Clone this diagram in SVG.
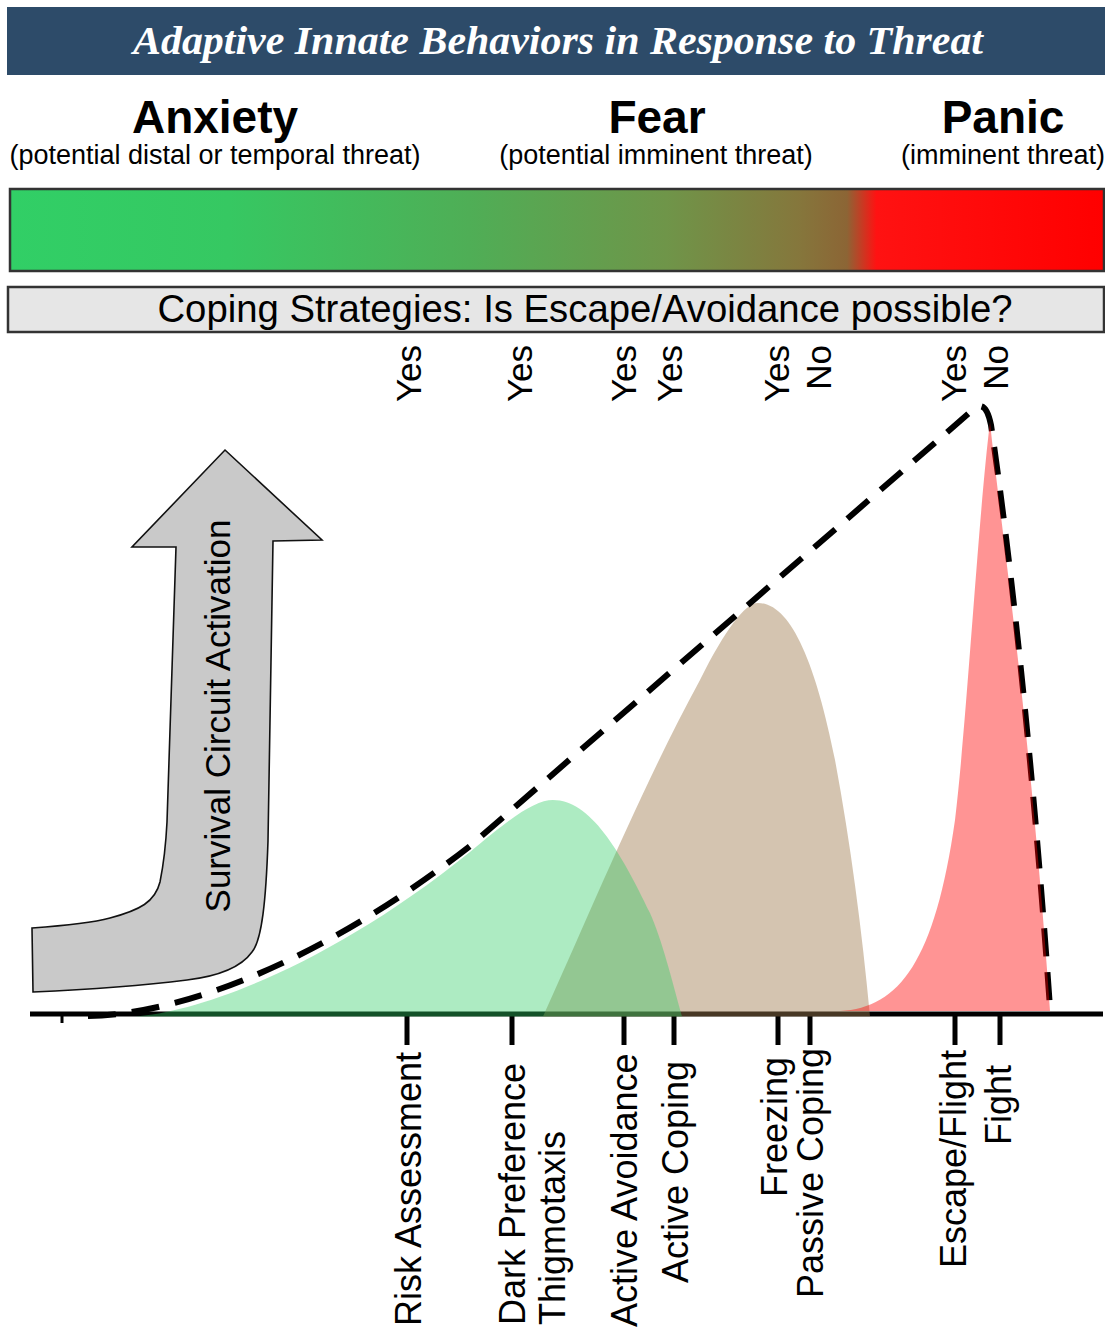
<svg xmlns="http://www.w3.org/2000/svg" width="1105" height="1329" viewBox="0 0 1105 1329">
<defs>
<linearGradient id="threatGrad" x1="0" y1="0" x2="1" y2="0">
<stop offset="0" stop-color="#31cf66"/>
<stop offset="0.2" stop-color="#36c862"/>
<stop offset="0.42" stop-color="#4fae56"/>
<stop offset="0.6" stop-color="#6f9549"/>
<stop offset="0.72" stop-color="#85773c"/>
<stop offset="0.765" stop-color="#8c6535"/>
<stop offset="0.792" stop-color="#ff1212"/>
<stop offset="1" stop-color="#ff0000"/>
</linearGradient>
<style>
.hdr{font-family:"Liberation Sans",Arial,sans-serif;font-weight:bold;font-size:46px;fill:#000;text-anchor:middle}
.sub{font-family:"Liberation Sans",Arial,sans-serif;font-size:27px;fill:#000;text-anchor:middle}
.yn{font-family:"Liberation Sans",Arial,sans-serif;font-size:35px;fill:#000;text-anchor:end}
.lbl{font-family:"Liberation Sans",Arial,sans-serif;font-size:36px;fill:#000;text-anchor:start}
.tick{stroke:#000;stroke-width:5}
</style>
</defs>
<rect width="1105" height="1329" fill="#fff"/>

<g id="title">
<rect x="7" y="7" width="1098" height="68" fill="#2d4b69"/>
<text x="558" y="54" font-family="'Liberation Serif','Times New Roman',serif" font-weight="bold" font-style="italic" font-size="41" fill="#fff" text-anchor="middle" textLength="850" lengthAdjust="spacingAndGlyphs">Adaptive Innate Behaviors in Response to Threat</text>
</g>

<g id="headers">
<text class="hdr" x="215" y="133">Anxiety</text>
<text class="hdr" x="657" y="133">Fear</text>
<text class="hdr" x="1003" y="133">Panic</text>
<text class="sub" x="215" y="164">(potential distal or temporal threat)</text>
<text class="sub" x="656" y="164">(potential imminent threat)</text>
<text class="sub" x="1003" y="164">(imminent threat)</text>
</g>

<g id="gradient-bar">
<rect x="10" y="189" width="1094" height="82" fill="url(#threatGrad)" stroke="#333" stroke-width="2.5"/>
</g>

<g id="coping-box">
<rect x="8" y="287" width="1096" height="45" fill="#e6e6e6" stroke="#333" stroke-width="2.5"/>
<text x="585" y="322" font-family="'Liberation Sans',Arial,sans-serif" font-size="38.3" fill="#000" text-anchor="middle">Coping Strategies: Is Escape/Avoidance possible?</text>
</g>

<g id="yes-no">
<text class="yn" transform="translate(421 345) rotate(-90)">Yes</text>
<text class="yn" transform="translate(532 345) rotate(-90)">Yes</text>
<text class="yn" transform="translate(636 345) rotate(-90)">Yes</text>
<text class="yn" transform="translate(682 345) rotate(-90)">Yes</text>
<text class="yn" transform="translate(789 345) rotate(-90)">Yes</text>
<text class="yn" transform="translate(831 345) rotate(-90)">No</text>
<text class="yn" transform="translate(966 345) rotate(-90)">Yes</text>
<text class="yn" transform="translate(1008 345) rotate(-90)">No</text>
</g>

<g id="survival-arrow">
<path d="M225 450 L322 540 L273 541 L268 841 C266 900 262 940 252 952 C242 966 220 976 187 980 C140 986 80 990 33 992 L32 928 C60 926 95 922 110 918 C140 910 155 902 160 882 C164 862 166 842 167 822 L176 547 L132 547 Z" fill="#c9c9c9" stroke="#111" stroke-width="1.6" stroke-linejoin="miter"/>
<text transform="translate(230 716) rotate(-90)" font-family="'Liberation Sans',Arial,sans-serif" font-size="35" fill="#000" text-anchor="middle">Survival Circuit Activation</text>
</g>

<g id="axis">
<line x1="30" y1="1014" x2="1103" y2="1014" stroke="#000" stroke-width="5"/>
<line x1="62" y1="1014" x2="62" y2="1023" stroke="#000" stroke-width="3"/>
<line class="tick" x1="407" y1="1014" x2="407" y2="1045"/>
<line class="tick" x1="512" y1="1014" x2="512" y2="1045"/>
<line class="tick" x1="624" y1="1014" x2="624" y2="1045"/>
<line class="tick" x1="674" y1="1014" x2="674" y2="1045"/>
<line class="tick" x1="778" y1="1014" x2="778" y2="1045"/>
<line class="tick" x1="810" y1="1014" x2="810" y2="1045"/>
<line class="tick" x1="955" y1="1014" x2="955" y2="1045"/>
<line class="tick" x1="1000" y1="1014" x2="1000" y2="1045"/>
</g>

<g id="fear-curve">
<path d="M543 1016.5 C585 925 640 790 700 680 C725 630 745 603 758 603 C790 603 815 660 835 760 C850 840 862 930 870 1016.5 Z" fill="#a07c50" fill-opacity="0.45"/>
</g>
<g id="anxiety-curve">
<path d="M135 1016.5 C200 1012 330 965 470 852 C510 818 535 800 553 800 C590 800 620 850 650 913 C662 940 672 980 682 1016.5 Z" fill="#33cc66" fill-opacity="0.4"/>
</g>

<g id="connectors">
<path d="M88 1016 C190 1014 330 955 470 846 L975 408 Q986 400 991 425 C1005 520 1030 720 1050 1008" fill="none" stroke="#000" stroke-width="6" stroke-dasharray="28 16"/>
</g>

<g id="panic-curve">
<path d="M840 1011 C900 1008 935 960 955 820 C967 720 978 520 990 422 C1000 520 1030 720 1050 1011 Z" fill="#ff0000" fill-opacity="0.42"/>
</g>

<g id="behavior-labels">
<text class="lbl" transform="translate(421 1326) rotate(-90)">Risk Assessment</text>
<text class="lbl" transform="translate(525 1325) rotate(-90)">Dark Preference</text>
<text class="lbl" transform="translate(565 1325) rotate(-90)">Thigmotaxis</text>
<text class="lbl" transform="translate(637 1327) rotate(-90)">Active Avoidance</text>
<text class="lbl" transform="translate(688 1283) rotate(-90)">Active Coping</text>
<text class="lbl" transform="translate(787 1197) rotate(-90)">Freezing</text>
<text class="lbl" transform="translate(823 1298) rotate(-90)">Passive Coping</text>
<text class="lbl" transform="translate(966 1268) rotate(-90)">Escape/Flight</text>
<text class="lbl" transform="translate(1011 1145) rotate(-90)">Fight</text>
</g>
</svg>
